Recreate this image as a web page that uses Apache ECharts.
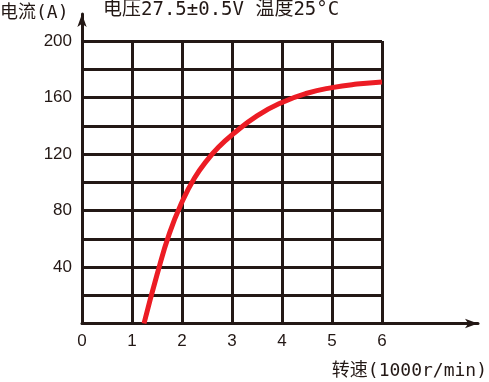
<!DOCTYPE html>
<html><head><meta charset="utf-8">
<script src="https://cdn.jsdelivr.net/npm/echarts@6/dist/echarts.min.js"></script>
<style>html,body{margin:0;padding:0;background:#fff}#c{width:489px;height:382px}</style>
</head><body><div id="c"></div>
<script>
var speed = [1.24, 1.5, 1.75, 2.0, 2.25, 2.5, 2.75, 3.0, 3.5, 4.0, 4.5, 5.0, 5.5, 6.0];
var current = [0, 34.5, 64, 86, 103, 115.5, 125.5, 133.5, 147, 156.5, 163, 167, 169.5, 171];
var xTicks = ['0', '1', '2', '3', '4', '5', '6'];
var yTickLabels = ['40', '80', '120', '160', '200'];
var titleText = '电压27.5±0.5V 温度25°C';
var yName = '电流(A)';
var xName = '转速(1000r/min)';

var dark = '#231815';
var numFont = '"Liberation Sans", Arial, sans-serif';
var cjkFont = '"DejaVu Sans Mono", "Noto Sans CJK SC", sans-serif';
var chart = echarts.init(document.getElementById('c'), null, {renderer: 'canvas'});
var pts = speed.map(function (x, i) { return [x, current[i]]; });
chart.setOption({
  animation: false,
  backgroundColor: '#fff',
  grid: [
    {left: 82, right: 107, top: 41, bottom: 58.5},
    {left: 82, right: 11, top: 14, bottom: 58.5}
  ],
  xAxis: [
    {gridIndex: 0, type: 'value', min: 0, max: 6, interval: 1,
     axisLine: {show: false}, axisTick: {show: false},
     axisLabel: {margin: 9, color: dark, fontSize: 17, fontFamily: numFont,
       formatter: function (v) { var s = String(Math.round(v)); return xTicks.indexOf(s) >= 0 ? s : ''; }},
     splitLine: {show: true, lineStyle: {color: dark, width: 3}}},
    {gridIndex: 1, type: 'value', min: 0, max: 1,
     axisLine: {show: true, symbol: ['none', 'arrow'], symbolSize: [7, 13], lineStyle: {color: dark, width: 3}},
     axisTick: {show: false}, axisLabel: {show: false}, splitLine: {show: false}}
  ],
  yAxis: [
    {gridIndex: 0, type: 'value', min: 0, max: 200, interval: 20,
     axisLine: {show: false}, axisTick: {show: false},
     axisLabel: {margin: 10, color: dark, fontSize: 17, fontFamily: numFont,
       formatter: function (v) { var s = String(Math.round(v)); return yTickLabels.indexOf(s) >= 0 ? s : ''; }},
     splitLine: {show: true, lineStyle: {color: dark, width: 3}}},
    {gridIndex: 1, type: 'value', min: 0, max: 1,
     axisLine: {show: true, symbol: ['none', 'arrow'], symbolSize: [7, 13], lineStyle: {color: dark, width: 3}},
     axisTick: {show: false}, axisLabel: {show: false}, splitLine: {show: false}}
  ],
  graphic: [
    {type: 'text', left: 0, top: 4, style: {text: yName, fill: dark, font: '18px ' + cjkFont}},
    {type: 'text', left: 103, top: 1, style: {text: titleText, fill: dark, font: '19px ' + cjkFont}},
    {type: 'text', right: 2, top: 362, style: {text: xName, fill: dark, font: '18px ' + cjkFont}}
  ],
  series: [{
    type: 'line', xAxisIndex: 0, yAxisIndex: 0, data: pts, smooth: 0.5,
    showSymbol: false, lineStyle: {color: '#ec1c24', width: 5}, z: 5
  }]
});
</script></body></html>
